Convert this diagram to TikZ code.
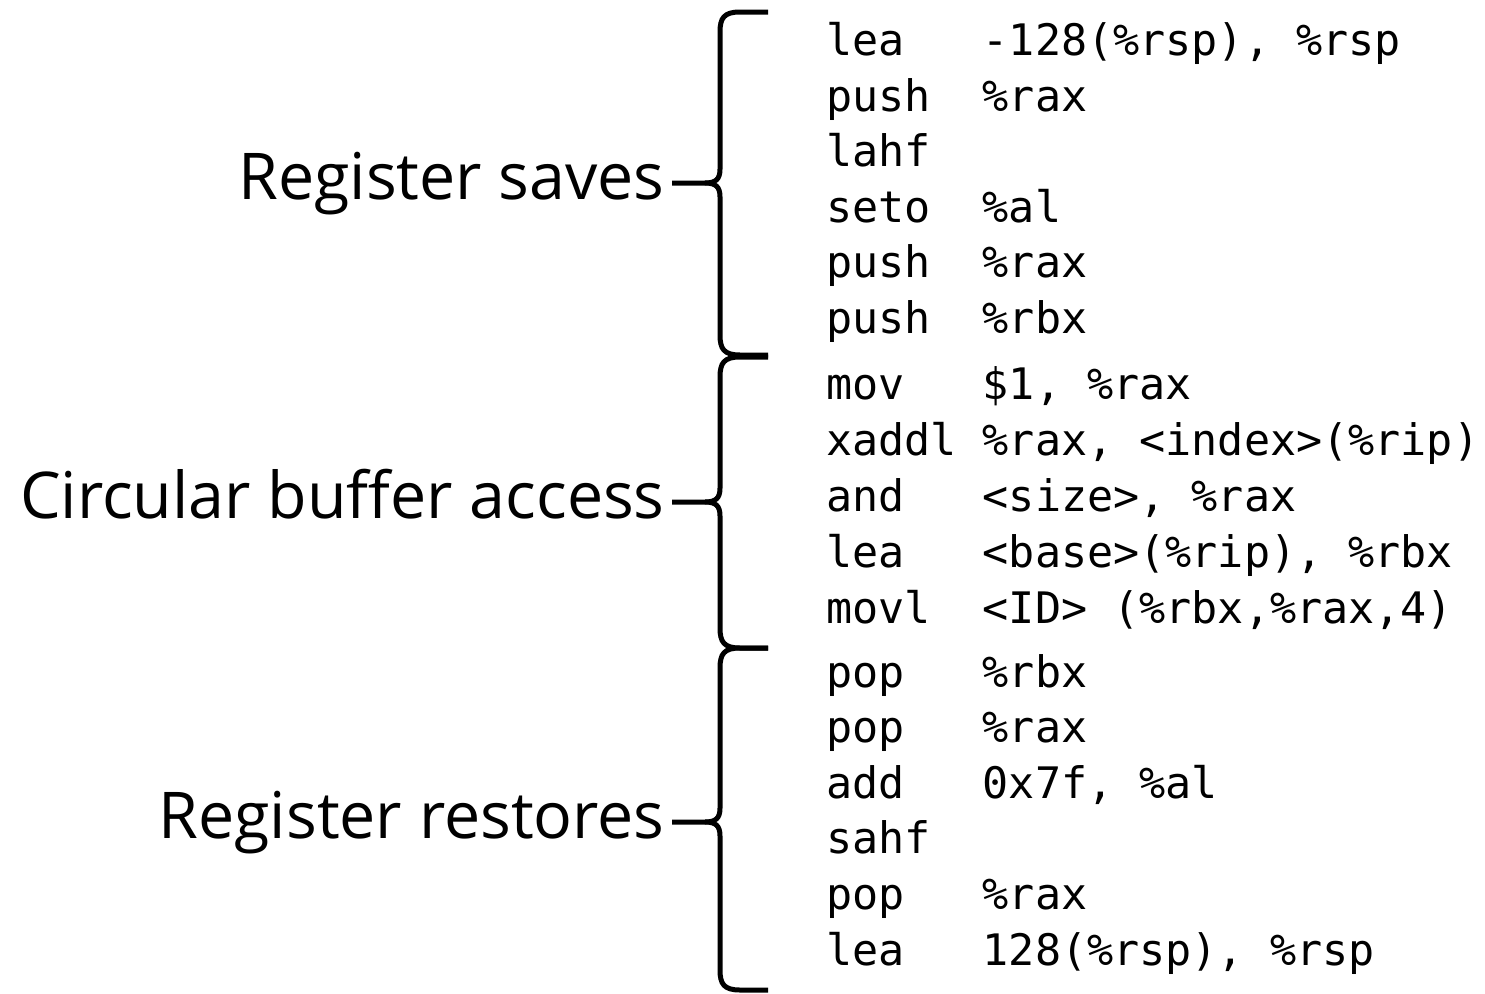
\documentclass[tikz,border=0pt]{standalone}
\usepackage{fontspec}
\setmainfont{Open Sans}
\setmonofont{DejaVu Sans Mono}
\usetikzlibrary{calc}
\tikzset{
  code/.style={anchor=base west, inner sep=0pt, font=\ttfamily\fontsize{43.4}{50}\selectfont},
  lab/.style={anchor=base east, inner sep=0pt, font=\fontsize{64.5}{76}\selectfont},
  bracestroke/.style={line width=5pt, line join=round, draw=black},
}
\newcommand\cl[4]{\node[code] (#1m) at (826,#2) {#3}; \node[code] (#1o) at (982.6,#2) {#4};}
% brace: #1 top, #2 tip, #3 bottom, #4 tip coordinate name
\newcommand\mybrace[4]{%
  \coordinate (#4) at (672,#2);
  \draw[bracestroke] (#4) -- (705,#2) .. controls (716,#2) and (720,#2-4) .. (720,#2-14)
     -- (720,#1+20) .. controls (720,#1+6) and (724,#1) .. (740,#1) -- (768,#1);
  \draw[bracestroke] (705,#2) .. controls (716,#2) and (720,#2+4) .. (720,#2+14)
     -- (720,#3-20) .. controls (720,#3-6) and (724,#3) .. (740,#3) -- (768,#3);
}
\begin{document}
\begin{tikzpicture}[x=1pt,y=-1pt]
\useasboundingbox (0,0) rectangle (1485,993);
% code lines
\cl{a1}{55.5}{lea}{-128(\%rsp), \%rsp}
\cl{a2}{111.1}{push}{\%rax}
\node[code] (a3m) at (826,166.7) {lahf};
\cl{a4}{222.3}{seto}{\%al}
\cl{a5}{277.9}{push}{\%rax}
\cl{a6}{333.5}{push}{\%rbx}
\cl{b1}{399.5}{mov}{\$1, \%rax}
\cl{b2}{455.5}{xaddl}{\%rax, <index>(\%rip)}
\cl{b3}{511.5}{and}{<size>, \%rax}
\cl{b4}{567.5}{lea}{<base>(\%rip), \%rbx}
\cl{b5}{623.5}{movl}{<ID> (\%rbx,\%rax,4)}
\cl{c1}{687}{pop}{\%rbx}
\cl{c2}{742.6}{pop}{\%rax}
\cl{c3}{798.2}{add}{0x7f, \%al}
\node[code] (c4m) at (826,853.8) {sahf};
\cl{c5}{909.4}{pop}{\%rax}
\cl{c6}{965}{lea}{128(\%rsp), \%rsp}
% braces
\mybrace{12}{183}{355}{t1}
\mybrace{357}{502}{648}{t2}
\mybrace{648}{822}{990}{t3}
% labels
\node[lab] (l1) at ($(t1)+(-7,16)$) {Register saves};
\node[lab] (l2) at ($(t2)+(-7,16)$) {Circular buffer access};
\node[lab] (l3) at ($(t3)+(-7,16)$) {Register restores};
\end{tikzpicture}
\end{document}
